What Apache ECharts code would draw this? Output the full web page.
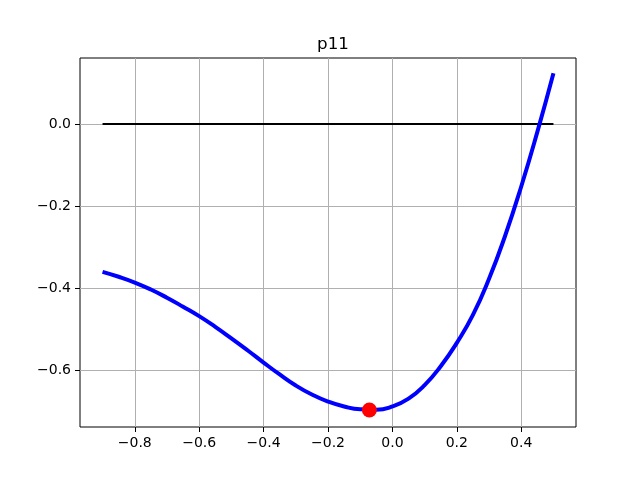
<!DOCTYPE html>
<html>
<head>
<meta charset="utf-8">
<title>p11</title>
<script src="https://cdn.jsdelivr.net/npm/echarts@6/dist/echarts.min.js"></script>
<style>
    html, body { margin: 0; padding: 0; background: #fff; }
    #chart { width: 640px; height: 480px; }
</style>
</head>
<body>
<div id="chart"></div>
<script>
    // curve
    var curveX = [-0.9, -0.85, -0.8, -0.75, -0.7, -0.65, -0.6, -0.55, -0.5, -0.45, -0.4, -0.35, -0.3, -0.25, -0.2,
        -0.15, -0.1, -0.05, 0, 0.05, 0.1, 0.15, 0.2, 0.25, 0.3, 0.35, 0.4, 0.45, 0.5];
    var curveY = [-0.360, -0.372, -0.386, -0.403, -0.423, -0.445, -0.468, -0.494, -0.522, -0.551, -0.581, -0.610, -0.637, -0.659, -0.676,
        -0.688, -0.695, -0.696, -0.688, -0.669, -0.636, -0.590, -0.533, -0.465, -0.377, -0.272, -0.152, -0.019, 0.124];

    // horizontal zero line
    var zeroX = [-0.9, 0.5];
    var zeroY = [0, 0];

    // minimum marker
    var minX = [-0.0715];
    var minY = [-0.6967];

    // tick labels
    var xTicks = [-0.8, -0.6, -0.4, -0.2, 0.0, 0.2, 0.4];
    var yTicks = [-0.6, -0.4, -0.2, 0.0];

    function pairs(xs, ys) {
        return xs.map(function (x, i) { return [x, ys[i]]; });
    }

    function fmt(v) {
        var s = v.toFixed(1);
        if (s === '-0.0') s = '0.0';
        return s.replace('-', '\u2212');
    }

    var font = 'DejaVu Sans';
    var chart = echarts.init(document.getElementById('chart'));

    chart.setOption({
        animation: false,
        backgroundColor: '#fff',
        title: {
            text: 'p11',
            left: 328,
            top: 31,
            textAlign: 'center',
            textStyle: {fontFamily: font, fontSize: 16.7, fontWeight: 'normal', color: '#000'}
        },
        grid: {
            left: 80,
            right: 64,
            top: 58,
            bottom: 53,
            show: true,
            borderColor: '#000',
            borderWidth: 1,
            backgroundColor: '#fff'
        },
        xAxis: {
            type: 'value',
            min: -0.97,
            max: 0.57,
            axisLine: {show: false, onZero: false},
            axisTick: {show: true, inside: false, length: 5, customValues: xTicks, lineStyle: {color: '#000', width: 1}},
            axisLabel: {
                show: true, margin: 9, customValues: xTicks, formatter: fmt,
                fontFamily: font, fontSize: 14, color: '#000'
            },
            splitLine: {show: true, lineStyle: {color: '#b0b0b0', width: 1}}
        },
        yAxis: {
            type: 'value',
            min: -0.738,
            max: 0.161,
            axisLine: {show: false, onZero: false},
            axisTick: {show: true, inside: false, length: 5, customValues: yTicks, lineStyle: {color: '#000', width: 1}},
            axisLabel: {
                show: true, margin: 9, customValues: yTicks, formatter: fmt,
                fontFamily: font, fontSize: 14, color: '#000'
            },
            splitLine: {show: true, lineStyle: {color: '#b0b0b0', width: 1}}
        },
        series: [
            {
                type: 'line',
                data: pairs(zeroX, zeroY),
                showSymbol: false,
                lineStyle: {color: '#000', width: 2}
            },
            {
                type: 'line',
                data: pairs(curveX, curveY),
                showSymbol: false,
                smooth: true,
                lineStyle: {color: '#0000ff', width: 4}
            },
            {
                type: 'scatter',
                data: pairs(minX, minY),
                symbolSize: 15,
                itemStyle: {color: '#ff0000', opacity: 1},
                z: 5
            }
        ]
    });
</script>
</body>
</html>
